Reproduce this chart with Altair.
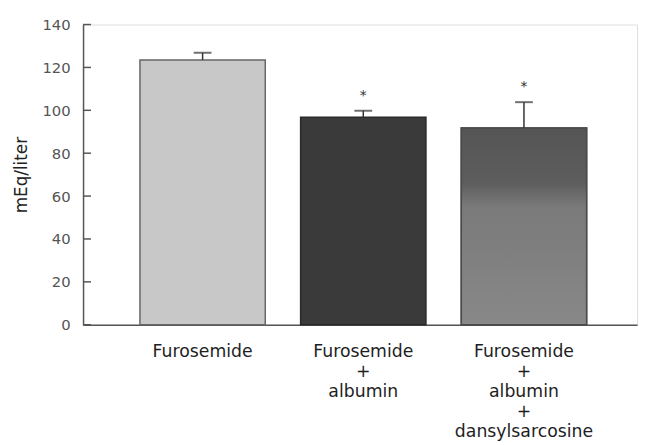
import altair as alt
import pandas as pd

categories = ["Furosemide", "Furosemide\n+\nalbumin", "Furosemide\n+\nalbumin\n+\ndansylsarcosine"]
values = [123.5, 96.8, 91.8]
errors = [3.3, 3.0, 12.0]
sig = ["", "*", "*"]
fills = ["#c8c8c8", "#3a3a3a", "#707070"]
strokes = ["#666666", "#2a2a2a", "#4a4a4a"]
y_ticks = [0, 20, 40, 60, 80, 100, 120, 140]

df = pd.DataFrame({
    "cat": categories,
    "value": values,
    "err": errors,
    "sig": sig,
})
df["top"] = df["value"] + df["err"]

ticks_df = pd.DataFrame({"t": y_ticks})

xscale = alt.Scale(domain=categories, paddingInner=0.22, paddingOuter=0.334, align=0.53)
yscale = alt.Scale(domain=[0, 140], nice=False)

x_axis = alt.Axis(
    labelExpr="split(datum.label, '\\n')",
    labelAngle=0,
    labelAlign="center",
    labelBaseline="top",
    labelLineHeight=20.3,
    labelPadding=18,
    labelLimit=300,
    labelOverlap=False,
    ticks=False,
)
y_axis = alt.Axis(values=y_ticks, ticks=False, grid=False, labelPadding=13, titlePadding=12)

x_enc = alt.X("cat:N", scale=xscale, sort=categories, title=None, axis=x_axis)


def y_enc(field):
    return alt.Y(field, scale=yscale, title="mEq/liter", axis=y_axis)


bars = alt.Chart(df).mark_bar(strokeWidth=1.5).encode(
    x=x_enc,
    y=y_enc("value:Q"),
    fill=alt.Fill("cat:N", scale=alt.Scale(domain=categories, range=fills), legend=None),
    stroke=alt.Stroke("cat:N", scale=alt.Scale(domain=categories, range=strokes), legend=None),
)

shade = alt.Gradient(
    gradient="linear",
    x1=0, x2=0, y1=0, y2=1,
    stops=[
        alt.GradientStop(offset=0, color="#555555"),
        alt.GradientStop(offset=0.28, color="#5d5d5d"),
        alt.GradientStop(offset=0.4, color="#7a7a7a"),
        alt.GradientStop(offset=1, color="#888888"),
    ],
)

bar3 = alt.Chart(df).transform_filter(
    alt.datum.cat == categories[2]
).mark_bar(fill=shade, stroke="#4a4a4a", strokeWidth=1.5).encode(
    x=x_enc,
    y=y_enc("value:Q"),
)

err_rule = alt.Chart(df).mark_rule(color="#333333", strokeWidth=1.5).encode(
    x=x_enc,
    y=y_enc("value:Q"),
    y2="top:Q",
)

err_cap = alt.Chart(df).mark_tick(color="#333333", size=18, thickness=2).encode(
    x=x_enc,
    y=y_enc("top:Q"),
)

stars = alt.Chart(df).mark_text(
    fontSize=14, font="DejaVu Sans", color="#333333", baseline="alphabetic", dy=-11
).encode(
    x=x_enc,
    y=y_enc("top:Q"),
    text="sig:N",
)

inner_ticks = alt.Chart(ticks_df).mark_rule(color="#555555", strokeWidth=1.5).encode(
    y=y_enc("t:Q"),
    x=alt.value(0),
    x2=alt.value(8),
)

chart = alt.layer(bars, bar3, err_rule, err_cap, stars, inner_ticks).properties(
    width=561,
    height=304,
    autosize=alt.AutoSizeParams(type="none"),
    padding={"left": 76, "top": 14, "right": 5, "bottom": 117},
).configure_view(
    stroke=None
).configure(
    background="white"
).configure_axis(
    domainColor="#555555",
    domainWidth=1.5,
).configure_axisX(
    labelFont="DejaVu Sans",
    labelFontSize=17.5,
    labelColor="#1e1e1e",
).configure_axisY(
    labelFont="DejaVu Sans",
    labelFontSize=15,
    labelColor="#555555",
    titleFont="DejaVu Sans",
    titleFontSize=17,
    titleFontWeight="normal",
    titleColor="#222222",
)

chart.save("out.html", embed_options={"renderer": "svg", "actions": False})
